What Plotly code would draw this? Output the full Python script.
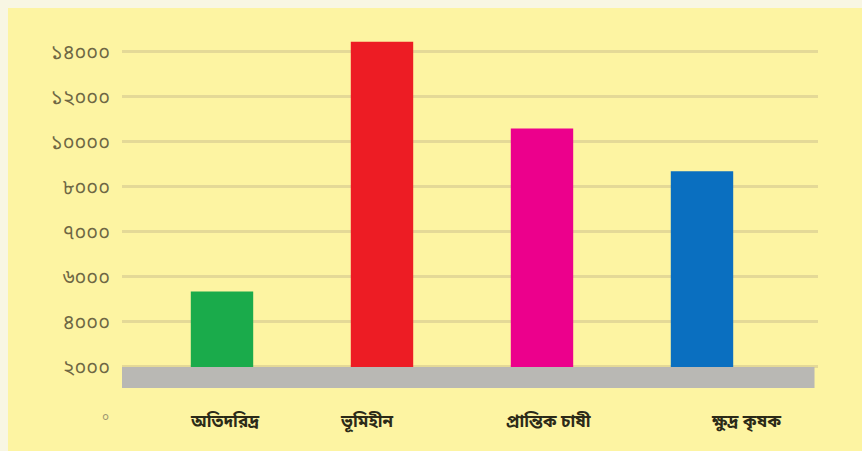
import plotly.graph_objects as go

# Data
categories = ["অতিদরিদ্র", "ভূমিহীন", "প্রান্তিক চাষী", "ক্ষুদ্র কৃষক"]
values = [3350, 14450, 10600, 8700]
bar_colors = ["#1aab4b", "#ed1c24", "#ec008c", "#0a6fc0"]
label_shift = [3, -15, 6, 44]

tick_vals = [0, 2000, 4000, 6000, 8000, 10000, 12000, 14000]
tick_text = ["২০০০", "৪০০০", "৬০০০", "৭০০০", "৮০০০", "১০০০০", "১২০০০", "১৪০০০"]
zero_label = "০"

PANEL = "#fdf4a2"
EDGE = "#f8f6e3"
GRID = "#e4d997"
FLOOR = "#b9b8b4"
BENGALI_FONT = "Noto Sans Bengali, Noto Serif Bengali, Lohit Bengali, FreeSerif, sans-serif"

fig = go.Figure()
fig.add_trace(go.Bar(
    x=list(range(len(categories))),
    y=values,
    marker=dict(color=bar_colors, line=dict(width=0)),
    width=0.39,
    hoverinfo="skip",
))

# pale frame along the top and left edges of the yellow card
fig.add_shape(type="rect", xref="paper", yref="paper", x0=-0.18, x1=-0.1638,
              y0=-0.06, y1=1.06, fillcolor=EDGE, line=dict(width=0), layer="below")
fig.add_shape(type="rect", xref="paper", yref="paper", x0=-0.18, x1=1.07,
              y0=1.0293, y1=1.06, fillcolor=EDGE, line=dict(width=0), layer="below")

# grey floor under the bars
fig.add_shape(type="rect", xref="x domain", yref="y", x0=0.0, x1=0.995,
              y0=-930, y1=0, fillcolor=FLOOR, line=dict(width=0), layer="above")

for i, name in enumerate(categories):
    fig.add_annotation(x=i, y=-2450, text=f"<b>{name}</b>", showarrow=False,
                       xshift=label_shift[i], xref="x", yref="y",
                       font=dict(family=BENGALI_FONT, size=17, color="#2b2a18"))

fig.add_annotation(x=-0.0316, y=-2250, text=zero_label, showarrow=False,
                   xref="paper", yref="y",
                   font=dict(family=BENGALI_FONT, size=12, color="#9a9470"))

fig.update_layout(
    width=862, height=451,
    margin=dict(l=122, r=44, t=20, b=21),
    paper_bgcolor=PANEL,
    plot_bgcolor="rgba(0,0,0,0)",
    showlegend=False,
    xaxis=dict(range=[-0.625, 3.725], showticklabels=False, showgrid=False,
               zeroline=False, showline=False, ticks=""),
    yaxis=dict(range=[-2800, 15420], tickvals=tick_vals, ticktext=tick_text,
               showgrid=True, gridcolor=GRID, gridwidth=3, zeroline=False,
               showline=False, ticks="outside", ticklen=7, tickcolor="rgba(0,0,0,0)",
               tickfont=dict(family=BENGALI_FONT, size=20, color="#6e6744")),
)

fig.write_html("out.html")
